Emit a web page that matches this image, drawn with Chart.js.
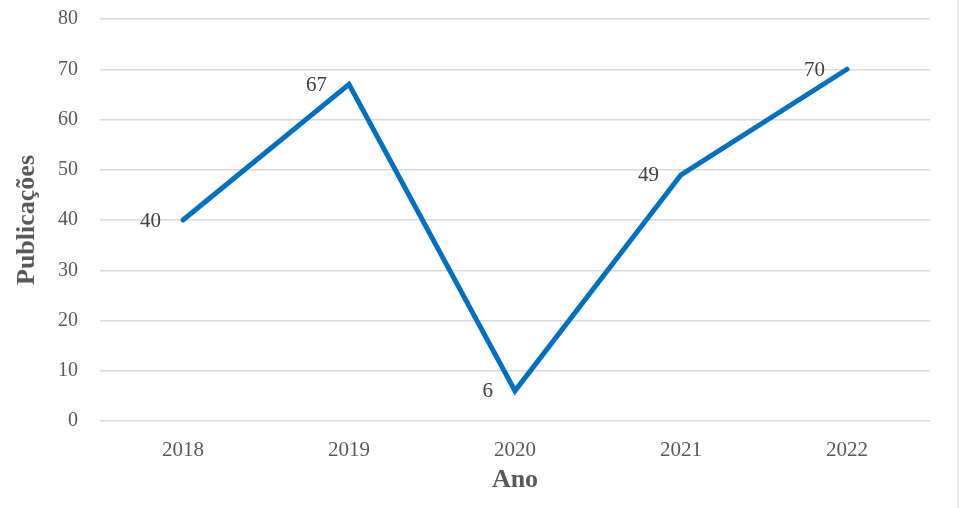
<!DOCTYPE html>
<html>
<head>
<meta charset="utf-8">
<script src="https://cdn.jsdelivr.net/npm/chart.js@4.4.1/dist/chart.umd.min.js"></script>
<style>
  html, body { margin: 0; padding: 0; background: #fff; }
  .wrap { width: 957px; height: 508px; border-right: 2px solid #ececec; }
</style>
</head>
<body>
<div class="wrap"><canvas id="myChart" width="957" height="508"></canvas></div>
<script>
const anos = ['2018', '2019', '2020', '2021', '2022'];
const publicacoes = [40, 67, 6, 49, 70];

// rótulos de valor à esquerda de cada ponto
const valueLabels = {
  id: 'valueLabels',
  afterDatasetsDraw(chart) {
    const ctx = chart.ctx;
    const meta = chart.getDatasetMeta(0);
    ctx.save();
    ctx.font = '21px "Liberation Serif", "Times New Roman", serif';
    ctx.fillStyle = '#404040';
    ctx.textAlign = 'right';
    ctx.textBaseline = 'middle';
    meta.data.forEach((pt, i) => {
      ctx.fillText(publicacoes[i], pt.x - 22, pt.y + 1);
    });
    ctx.restore();
  }
};

const ctx = document.getElementById('myChart');
new Chart(ctx, {
  type: 'line',
  data: {
    labels: anos,
    datasets: [{
      label: 'Publicações',
      data: publicacoes,
      borderColor: '#0070C0',
      borderWidth: 5,
      pointRadius: 0,
      tension: 0,
      borderCapStyle: 'round',
      borderJoinStyle: 'miter'
    }]
  },
  options: {
    responsive: false,
    animation: false,
    layout: { padding: { top: 19, right: 27, bottom: 8, left: 8 } },
    plugins: { legend: { display: false }, tooltip: { enabled: false } },
    scales: {
      x: {
        offset: true,
        grid: { display: false },
        border: { display: false },
        ticks: { color: '#595959', font: { family: '"Liberation Serif", serif', size: 21 }, padding: 9 },
        title: { display: true, text: 'Ano', color: '#595959', font: { family: '"Liberation Serif", serif', size: 26, weight: 'bold' }, padding: { top: 2 } },
        afterFit(scale) { scale.height = 508 - 421 - 8; }
      },
      y: {
        min: 0,
        max: 80,
        ticks: { stepSize: 10, color: '#595959', font: { family: '"Liberation Serif", serif', size: 20 }, padding: 22 },
        grid: { color: '#d9d9d9', lineWidth: 1.5, drawTicks: false },
        border: { display: false },
        title: { display: true, text: 'Publicações', color: '#595959', font: { family: '"Liberation Serif", serif', size: 26, weight: 'bold' } },
        afterFit(scale) {
          scale.width = 100 - 8;
          scale.paddingTop = 0;
          scale.paddingBottom = 0;
        }
      }
    }
  },
  plugins: [valueLabels]
});
</script>
</body>
</html>
